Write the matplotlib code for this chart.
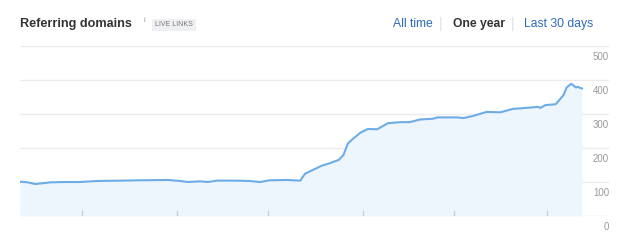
import numpy as np
import matplotlib.pyplot as plt

# referring domains over one year (day index, count)
days = [0, 5, 10, 16, 20, 29, 39, 50, 65, 78, 96, 104, 109, 117, 122, 128,
        140, 149, 156, 162, 173, 182, 185, 190, 196, 201, 207, 210, 213, 216,
        221, 226, 232, 235, 239, 247, 253, 260, 268, 271, 284, 288, 294, 303,
        312, 320, 329, 336, 338, 341, 346, 348, 353, 355, 358, 361, 362, 365]
domains = [101, 99, 94, 97, 99, 100, 100, 103, 104, 105, 106, 103, 100, 102, 100, 104,
           104, 103, 100, 105, 106, 104, 124, 135, 148, 155, 165, 179, 214, 226,
           245, 256, 255, 263, 273, 276, 276, 284, 286, 290, 290, 288, 294, 306,
           305, 315, 318, 321, 318, 326, 328, 329, 356, 378, 389, 378, 380, 375]
xticks = [40, 102, 161, 223, 282, 342]
yticks = [0, 100, 200, 300, 400, 500]

fig = plt.figure(figsize=(6.28, 2.43), dpi=100)
ax = fig.add_axes([20/628, 27/243, 589/628, 170/243])

ax.fill_between(days, domains, 0, color='#eef6fd', lw=0)
ax.plot(days, domains, color='#6cade6', lw=1.5, solid_joinstyle='round')

ax.set_xlim(0, 382.5)
ax.set_ylim(0, 500)
for v in yticks:
    ax.axhline(v, color='#dcdcdc' if v == 0 else '#ececec', lw=1, zorder=0)
    ax.annotate(str(v), xy=(1, v), xycoords=('axes fraction', 'data'),
                xytext=(0, -4.5), textcoords='offset points',
                ha='right', va='top', fontsize=7, color='#999999',
                family='Liberation Sans', annotation_clip=False)
for t in xticks:
    ax.plot([t, t], [0, 14], color='#cccccc', lw=1)

ax.set_xticks([])
ax.set_yticks([])
for s in ax.spines.values():
    s.set_visible(False)

# header
fig.text(20/628, 1 - 24/243, 'Referring domains', fontsize=9.1, weight='bold',
         color='#333333', va='center', family='Liberation Sans')
fig.text(144/628, 1 - 20/243, 'i', fontsize=5.5, color='#999999',
         va='center', family='Liberation Sans')
fig.text(174/628, 1 - 25/243, 'LIVE LINKS', fontsize=5, color='#777777',
         ha='center', va='center', family='Liberation Sans',
         bbox=dict(boxstyle='square,pad=0.4', fc='#eef0f3', ec='none'))

fig.text(393/628, 1 - 24/243, 'All time', fontsize=8.7, color='#2e6ab8',
         va='center', family='Liberation Sans')
fig.text(441/628, 1 - 24/243, '|', fontsize=10, color='#dddddd',
         va='center', ha='center', family='Liberation Sans')
fig.text(453/628, 1 - 24/243, 'One year', fontsize=8.7, weight='bold',
         color='#333333', va='center', family='Liberation Sans')
fig.text(513/628, 1 - 24/243, '|', fontsize=10, color='#dddddd',
         va='center', ha='center', family='Liberation Sans')
fig.text(524/628, 1 - 24/243, 'Last 30 days', fontsize=8.7, color='#2e6ab8',
         va='center', family='Liberation Sans')

fig.savefig('out.png', dpi=100)
